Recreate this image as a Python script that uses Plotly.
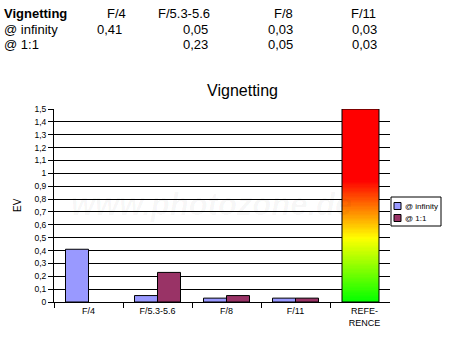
import plotly.graph_objects as go

# ---- data -------------------------------------------------------------
apertures = ["F/4", "F/5.3-5.6", "F/8", "F/11"]
ref_label = "REFE-<br>RENCE"
series_names = ["@ infinity", "@ 1:1"]
ev_infinity = [0.41, 0.05, 0.03, 0.03]
ev_close = [None, 0.23, 0.05, 0.03]
ref_value = 1.5
# colour ramp of the reference bar: (EV, rgb)
ref_stops = [(0.0, (0, 255, 0)), (0.5, (255, 255, 0)),
             (0.95, (255, 0, 0)), (1.5, (255, 0, 0))]

series_colors = ["#9999FF", "#993366"]
FONT = "Liberation Sans, Arial, sans-serif"

# ---- geometry helpers ------------------------------------------------
W, H = 461, 344
PL, PR, PT, PB = 54, 390, 109, 302          # plot area in pixels
CAT_PX = 69                                  # pixels per category


def px_x(x):
    return (x - PL) / (PR - PL)


def px_y(y):
    return (PB - y) / (PB - PT)


def fmt(v):
    return f"{v:.2f}".replace(".", ",")


def ramp(v):
    for (a, ca), (b, cb) in zip(ref_stops[:-1], ref_stops[1:]):
        if a <= v <= b:
            t = (v - a) / (b - a) if b > a else 0
            c = [round(ca[i] + (cb[i] - ca[i]) * t) for i in range(3)]
            return f"rgb({c[0]},{c[1]},{c[2]})"
    return f"rgb{ref_stops[-1][1]}"


categories = apertures + [ref_label]
fig = go.Figure()

# grouped bars: two series, each a third of a category wide
for name, vals, col, off in zip(series_names, [ev_infinity, ev_close],
                                series_colors, [-1 / 3, 0]):
    fig.add_trace(go.Bar(
        x=apertures, y=vals, name=name, width=1 / 3, offset=off,
        marker=dict(color=col, line=dict(color="black", width=1)),
        showlegend=False))

# reference bar with a vertical green-yellow-red ramp
REF_W, REF_OFF = 0.536, -0.326
n_seg = 150
step = ref_value / n_seg
fig.add_trace(go.Bar(
    x=[ref_label] * n_seg, y=[step] * n_seg,
    base=[i * step for i in range(n_seg)],
    width=REF_W, offset=REF_OFF,
    marker=dict(color=[ramp((i + 0.5) * step) for i in range(n_seg)],
                line=dict(width=0)),
    showlegend=False))
fig.add_trace(go.Bar(
    x=[ref_label], y=[ref_value], width=REF_W, offset=REF_OFF,
    marker=dict(color="rgba(0,0,0,0)", line=dict(color="black", width=1)),
    showlegend=False))

fig.update_layout(
    width=W, height=H, autosize=False,
    margin=dict(l=PL, r=W - PR, t=PT, b=H - PB, pad=0),
    paper_bgcolor="white", plot_bgcolor="white",
    barmode="overlay", separators=", ",
    font=dict(family=FONT, color="black"),
    title=dict(text="Vignetting", x=242.5 / W, xref="container",
               xanchor="center", y=1 - 90 / H, yref="container",
               yanchor="middle", font=dict(size=16, family=FONT)),
    xaxis=dict(type="category", categoryorder="array",
               categoryarray=categories,
               range=[-0.5, -0.5 + (PR - PL) / CAT_PX],
               showline=True, linecolor="black", linewidth=1,
               ticks="outside", tickson="boundaries", ticklen=5,
               tickcolor="black", tickwidth=1, showgrid=False,
               tickfont=dict(size=9, family=FONT), fixedrange=True),
    yaxis=dict(range=[0, 1.5], tick0=0, dtick=0.1,
               showgrid=True, gridcolor="black", gridwidth=1,
               showline=True, linecolor="black", linewidth=1,
               ticks="outside", ticklen=5, tickcolor="black",
               zeroline=False, tickfont=dict(size=8.5, family=FONT),
               fixedrange=True),
)

ann = []

# table of values above the chart
col_head_right = [128, 212, 295, 378]
col_val_right = [124, 210, 295, 379]
row_y = [13, 29, 45]
ann.append(dict(text="<b>Vignetting</b>", x=px_x(2), y=px_y(row_y[0]),
                xanchor="left", font=dict(size=13)))
for lab, xr in zip(apertures, col_head_right):
    ann.append(dict(text=lab, x=px_x(xr), y=px_y(row_y[0]),
                    xanchor="right", font=dict(size=13)))
for name, vals, ry in zip(series_names, [ev_infinity, ev_close], row_y[1:]):
    ann.append(dict(text=name, x=px_x(2), y=px_y(ry), xanchor="left",
                    font=dict(size=13)))
    for v, xr in zip(vals, col_val_right):
        if v is not None:
            ann.append(dict(text=fmt(v), x=px_x(xr), y=px_y(ry),
                            xanchor="right", font=dict(size=13)))

# axis title
ann.append(dict(text="EV", x=px_x(17), y=px_y(205), textangle=-90,
                xanchor="center", font=dict(size=10)))

# watermark
ann.append(dict(text="www.photozone.de", x=px_x(211), y=px_y(204),
                xanchor="center",
                font=dict(size=31, weight="bold", style="italic",
                          color="rgba(0,0,0,0.035)",
                          shadow="2px 2px 2px rgba(0,0,0,0.05)")))

# legend
leg_rows = [206, 218]
shapes = [dict(type="rect", xref="paper", yref="paper",
               x0=px_x(391), x1=px_x(441), y0=px_y(197), y1=px_y(226),
               line=dict(color="black", width=1), fillcolor="white")]
for name, col, ly in zip(series_names, series_colors, leg_rows):
    shapes.append(dict(type="rect", xref="paper", yref="paper",
                       x0=px_x(394), x1=px_x(401),
                       y0=px_y(ly - 3.5), y1=px_y(ly + 3.5),
                       line=dict(color="black", width=1), fillcolor=col))
    ann.append(dict(text=name, x=px_x(403), y=px_y(ly), xanchor="left",
                    font=dict(size=8)))

for a in ann:
    a.update(xref="paper", yref="paper", showarrow=False, yanchor="middle")
    a["font"].setdefault("family", FONT)
    a["font"].setdefault("color", "black")

fig.update_layout(annotations=ann, shapes=shapes)
fig.write_html("out.html", config={"displayModeBar": False})
